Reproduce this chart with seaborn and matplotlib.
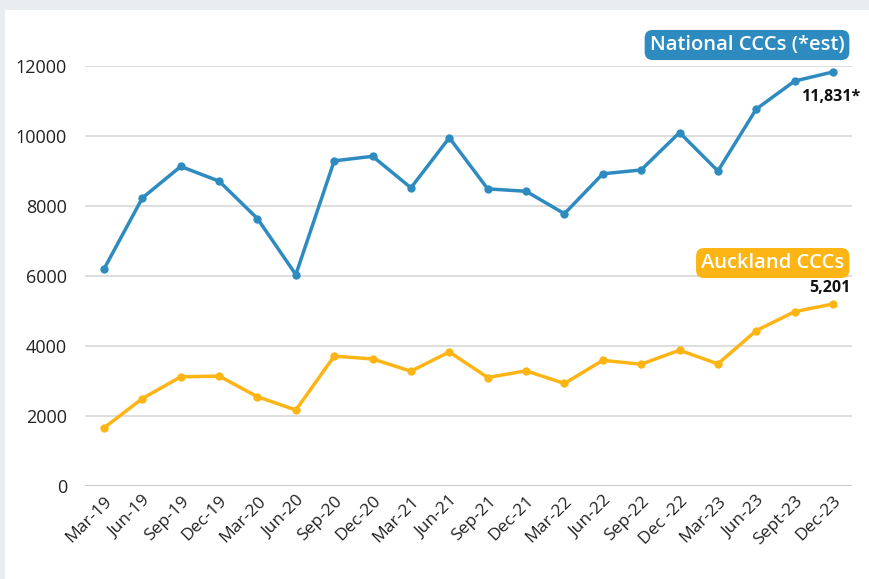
import numpy as np
import pandas as pd
import matplotlib
matplotlib.use("Agg")
import matplotlib.pyplot as plt
import matplotlib.transforms as mtransforms
from matplotlib.patches import Rectangle
import seaborn as sns

# quarterly code of compliance certificates
quarters = ["Mar-19", "Jun-19", "Sep-19", "Dec-19", "Mar-20", "Jun-20", "Sep-20",
            "Dec-20", "Mar-21", "Jun-21", "Sep-21", "Dec-21", "Mar-22", "Jun-22",
            "Sep-22", "Dec -22", "Mar-23", "Jun-23", "Sept-23", "Dec-23"]
national = [6200, 8230, 9130, 8710, 7640, 6040, 9290, 9420, 8520, 9950,
            8490, 8420, 7780, 8920, 9030, 10100, 9000, 10770, 11570, 11831]
auckland = [1660, 2500, 3120, 3140, 2550, 2170, 3710, 3630, 3280, 3830,
            3100, 3290, 2930, 3590, 3480, 3880, 3490, 4440, 4980, 5201]
yticks = [0, 2000, 4000, 6000, 8000, 10000, 12000]

BLUE = "#2e8bc0"
ORANGE = "#fdb515"

sns.set_theme(style="white")
plt.rcParams["font.family"] = ["Open Sans", "DejaVu Sans"]

df = pd.DataFrame({
    "pos": list(range(len(quarters))) * 2,
    "value": national + auckland,
    "series": ["National"] * len(quarters) + ["Auckland"] * len(quarters),
})

fig = plt.figure(figsize=(8.69, 5.79), dpi=100)
fig.patch.set_facecolor("#e9edf0")
fig.patches.append(Rectangle((5 / 869, 0), 1, 1 - 10 / 579, transform=fig.transFigure,
                             facecolor="white", edgecolor="none", zorder=-5))
ax = fig.add_axes([85 / 869, 1 - 486 / 579, 767 / 869, 420 / 579])
ax.set_zorder(2)
ax.set_facecolor("none")

sns.lineplot(data=df, x="pos", y="value", hue="series",
             palette={"National": BLUE, "Auckland": ORANGE},
             marker="o", markersize=6, markeredgewidth=0, linewidth=2.5,
             ax=ax, legend=False, zorder=3)

ax.set_xlim(-0.495, len(quarters) - 1 + 0.495)
ax.set_ylim(0, 12000)
ax.set_yticks(yticks)
ax.set_yticklabels([str(v) for v in yticks], fontsize=13, color="#222222")
ax.set_xticks(range(len(quarters)))
ax.set_xticklabels(quarters, rotation=45, ha="right", rotation_mode="anchor",
                   fontsize=12.5, color="#222222")
ax.tick_params(axis="y", length=0, pad=13)
ax.tick_params(axis="x", length=0, pad=5)
ax.set_xlabel("")
ax.set_ylabel("")
for s in ax.spines.values():
    s.set_visible(False)
for v in yticks:
    ax.axhline(v, color="#c9c9c9" if v == 0 else "#dedede", linewidth=1.4, zorder=1)

blend = mtransforms.blended_transform_factory(ax.transAxes, ax.transData)
ax.text(0.99, 12600, "National CCCs (*est)", transform=blend, ha="right", va="center",
        fontsize=14.5, fontweight="semibold", color="white",
        bbox=dict(boxstyle="round,pad=0.25,rounding_size=0.4", fc=BLUE, ec="none"))
ax.text(0.99, 6370, "Auckland CCCs", transform=blend, ha="right", va="center",
        fontsize=14.5, fontweight="semibold", color="white",
        bbox=dict(boxstyle="round,pad=0.25,rounding_size=0.4", fc=ORANGE, ec="none"))

last = len(quarters) - 1
ax.annotate(f"{national[-1]:,}*", xy=(last, national[-1]), xytext=(19.5, -18),
            textcoords="offset points", ha="right", va="center",
            fontsize=11.5, fontweight="bold", color="#111111")
ax.annotate(f"{auckland[-1]:,}", xy=(last, auckland[-1]), xytext=(12.5, 11.5),
            textcoords="offset points", ha="right", va="center",
            fontsize=11.5, fontweight="bold", color="#111111")

fig.savefig("out.png", dpi=100)
